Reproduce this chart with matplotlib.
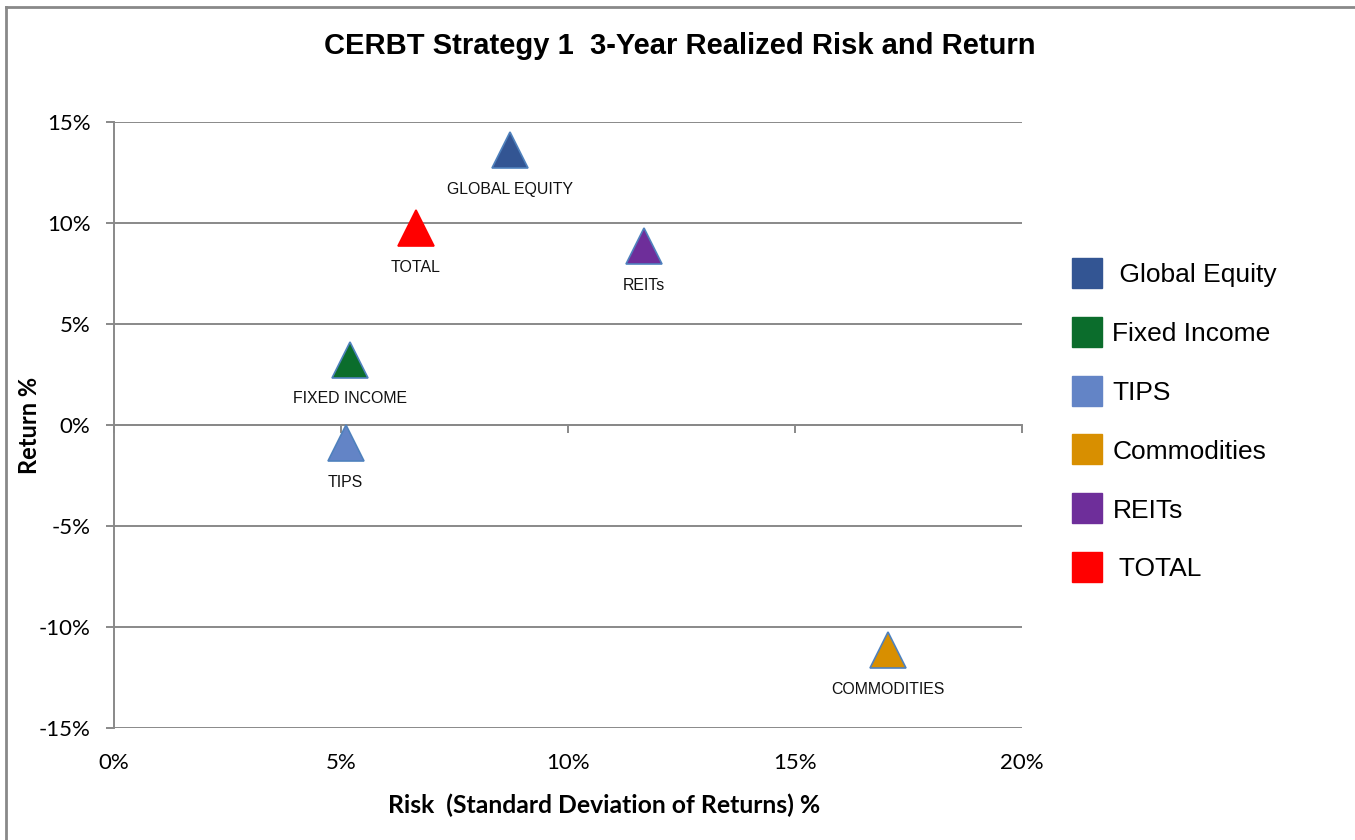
#!/usr/bin/env python3
"""
CERBT Strategy 1 risk / return scatter
"""
import matplotlib
matplotlib.use('Agg')
import matplotlib.pyplot as plt
from matplotlib.lines import Line2D
from matplotlib.ticker import FuncFormatter

# Data
assets = ['Global Equity', 'Fixed Income', 'TIPS', 'Commodities', 'REITs', 'TOTAL']
point_labels = ['GLOBAL EQUITY', 'FIXED INCOME', 'TIPS', 'COMMODITIES', 'REITs', 'TOTAL']
legend_labels = [' Global Equity', 'Fixed Income', 'TIPS', 'Commodities', 'REITs', ' TOTAL']
risk = [8.72, 5.20, 5.10, 17.04, 11.67, 6.65]
ret = [13.59, 3.24, -0.89, -11.16, 8.84, 9.75]
colors = ['#335593', '#0B6D2C', '#6384C6', '#D88F00', '#6E2E9A', '#FF0000']
edges = ['#4F81BD', '#4F81BD', '#4F81BD', '#4F81BD', '#4F81BD', '#FF0000']

x_ticks = [0, 5, 10, 15, 20]
y_ticks = [-15, -10, -5, 0, 5, 10, 15]

GREY = '#898989'


def pct(v, pos=None):
    return '{:d}%'.format(int(round(v)))


def main():
    fig = plt.figure(figsize=(13.55, 8.4), dpi=100)
    ax = fig.add_axes([114 / 1355, 1 - 728 / 840, 908 / 1355, 606 / 840])

    for i in range(len(assets)):
        ax.plot(risk[i], ret[i], marker='^', ls='', markersize=26,
                markerfacecolor=colors[i], markeredgecolor=edges[i],
                markeredgewidth=1.2, zorder=3)
        ax.annotate(point_labels[i], (risk[i], ret[i]), xytext=(0, -23),
                    textcoords='offset points', ha='center', va='top',
                    fontsize=11.4, family='Liberation Sans', color='#111111')

    ax.set_xlim(0, 20)
    ax.set_ylim(-15, 15)
    ax.set_yticks(y_ticks)
    ax.yaxis.set_major_formatter(FuncFormatter(pct))
    ax.set_xticks(x_ticks)
    ax.grid(axis='y', color=GREY, lw=1.4)
    ax.set_axisbelow(True)

    for s in ['top', 'right']:
        ax.spines[s].set_visible(False)
    ax.spines['left'].set_color(GREY)
    ax.spines['left'].set_linewidth(1.4)
    ax.spines['bottom'].set_position(('data', 0))
    ax.spines['bottom'].set_color(GREY)
    ax.spines['bottom'].set_linewidth(1.4)
    ax.tick_params(axis='x', direction='out', length=6, width=1.4,
                   color=GREY, labelbottom=False)
    ax.tick_params(axis='y', direction='out', length=6, width=1.4,
                   color=GREY, labelsize=16, pad=11)
    for t in ax.get_yticklabels():
        t.set_family('Lato')

    # x tick labels sit at the bottom of the plot, like Excel's "low" labels
    sec = ax.secondary_xaxis('bottom')
    sec.set_xticks(x_ticks)
    sec.xaxis.set_major_formatter(FuncFormatter(pct))
    sec.tick_params(length=0, labelsize=16, pad=18)
    sec.spines['bottom'].set_visible(False)
    for t in sec.get_xticklabels():
        t.set_family('Lato')

    fig.text(604 / 1355, 1 - 805 / 840, 'Risk  (Standard Deviation of Returns) %',
             ha='center', va='center', fontsize=17.8, fontweight='bold',
             family='Lato')
    fig.text(30 / 1355, 1 - 425 / 840, 'Return %', rotation=90,
             ha='center', va='center', fontsize=17, fontweight='bold',
             family='Lato')

    fig.text(680 / 1355, 1 - 46 / 840, 'CERBT Strategy 1  3-Year Realized Risk and Return',
             ha='center', va='center', fontsize=21, fontweight='bold',
             family='Liberation Sans')

    handles = [Line2D([], [], marker='s', ls='', markersize=22,
                      markerfacecolor=c, markeredgecolor=c) for c in colors]
    ax.legend(handles, legend_labels, loc='upper left',
              bbox_to_anchor=(1057 / 1355, 1 - 250 / 840),
              bbox_transform=fig.transFigure, frameon=False,
              prop={'family': 'Liberation Sans', 'size': 19},
              labelspacing=1.32, handletextpad=0.3, borderpad=0,
              handlelength=1.3)

    # chart border (left and top edges visible)
    fig.add_artist(Line2D([6 / 1355, 6 / 1355], [0, 1 - 7 / 840],
                          transform=fig.transFigure, color=GREY, lw=2))
    fig.add_artist(Line2D([6 / 1355, 1], [1 - 7 / 840, 1 - 7 / 840],
                          transform=fig.transFigure, color=GREY, lw=2))

    fig.savefig('out.png', dpi=100)


if __name__ == "__main__":
    main()
